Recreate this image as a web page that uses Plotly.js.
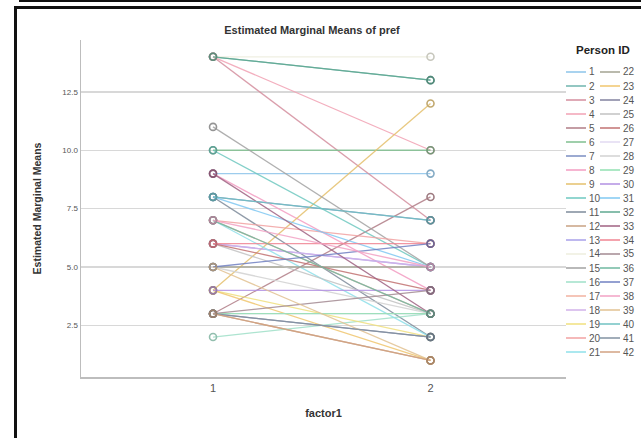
<!DOCTYPE html>
<html>
<head>
<meta charset="utf-8">
<script src="https://cdn.plot.ly/plotly-3.0.1.min.js"></script>
<style>
  html, body { margin:0; padding:0; background:#fff; }
  #wrap { position:relative; width:641px; height:438px; overflow:hidden; background:#fff; }
  #chart { position:absolute; left:0; top:0; width:641px; height:438px; }
  .bl { position:absolute; background:#111; }
</style>
</head>
<body>
<div id="wrap">
  <div id="chart"></div>
  <div class="bl" style="left:19px; top:0px; width:622px; height:2px;"></div>
  <div class="bl" style="left:14px; top:6px; width:627px; height:3px;"></div>
  <div class="bl" style="left:14px; top:6px; width:3px; height:432px;"></div>
</div>
<script>
// Data
const factorLevels = [1, 2];
const personIds = [1,2,3,4,5,6,7,8,9,10,11,12,13,14,15,16,17,18,19,20,21,
                   22,23,24,25,26,27,28,29,30,31,32,33,34,35,36,37,38,39,40,41,42];
const meanFactor1 = [9,14,14,14,3,10,8,9,4,10,8,3,6,14,11,2,7,6,4,7,7,
                     5,4,3,6,6,3,5,3,4,8,14,9,6,3,7,5,7,5,8,3,3];
const meanFactor2 = [9,13,7,10,8,10,7,4,12,5,2,1,5,14,5,3,3,5,2,6,2,
                     5,1,2,3,4,3,3,3,4,5,13,3,6,4,3,6,5,1,7,2,1];
const personColors = [
  '#8cc4ea','#6fb4ae','#d48e9e','#f2a2b4','#b07c86','#7fbf8f','#7b8ec2','#f39cc2','#e5c06c','#6ec8c0','#7e8b9b',
  '#c9a283','#a8a0ea','#eeeede','#a2a2a2','#9fe0c8','#f2b2a0','#d2b2ea','#f0e07e','#f2a2a2','#8fe0ea',
  '#a3a392','#f0c66e','#82829f','#c2c2c2','#c27272','#e2daf2','#d2d2d2','#92e0b2','#b290e2','#80c8f2',
  '#5fa890','#a06282','#f08492','#a38a92','#6fb8a0','#7080c2','#f2a2c4','#e2c292','#70c2c2','#8292a2','#d2a282'
];

function darken(hex, f) {
  const n = parseInt(hex.slice(1), 16);
  const r = Math.round(((n >> 16) & 255) * f), g = Math.round(((n >> 8) & 255) * f), b = Math.round((n & 255) * f);
  return 'rgb(' + r + ',' + g + ',' + b + ')';
}

const L = 81, T = 40, R = 566, B = 377;
const px2x = p => (p - L) / (R - L);
const px2y = p => (B - p) / (B - T);

const traces = personIds.map((id, i) => ({
  type: 'scatter',
  mode: 'lines+markers',
  name: String(id),
  x: factorLevels,
  y: [meanFactor1[i], meanFactor2[i]],
  line: { color: personColors[i], width: 1.3 },
  marker: { symbol: 'circle-open', size: 7, color: darken(personColors[i], 0.8), line: { width: 1.6, color: darken(personColors[i], 0.8) } },
  opacity: 0.85,
  showlegend: false,
  hoverinfo: 'name+y'
}));

// Manual two-column legend (column-major, 21 rows)
const shapes = [];
const annotations = [];
const rowTop = 72, rowGap = 14;
personIds.forEach((id, i) => {
  const col = i < 21 ? 0 : 1;
  const row = i % 21;
  const yPx = rowTop + row * rowGap;
  const x0 = col === 0 ? 566 : 600;
  shapes.push({
    type: 'line', xref: 'paper', yref: 'paper',
    x0: px2x(x0), x1: px2x(x0 + 20), y0: px2y(yPx), y1: px2y(yPx),
    line: { color: personColors[i], width: 1.5 }
  });
  annotations.push({
    xref: 'paper', yref: 'paper', x: px2x(x0 + 21), y: px2y(yPx),
    xanchor: 'left', yanchor: 'middle', showarrow: false,
    text: String(id), font: { family: 'Liberation Sans, Arial, sans-serif', size: 10, color: '#555' }
  });
});
annotations.push({
  xref: 'paper', yref: 'paper', x: px2x(603), y: px2y(50),
  xanchor: 'center', yanchor: 'middle', showarrow: false,
  text: '<b>Person ID</b>', font: { family: 'Liberation Sans, Arial, sans-serif', size: 11.5, color: '#222' }
});

const layout = {
  width: 641, height: 438,
  margin: { l: L, r: 641 - R, t: T, b: 438 - B, pad: 0 },
  paper_bgcolor: 'rgba(0,0,0,0)',
  plot_bgcolor: '#fff',
  showlegend: false,
  title: {
    text: '<b>Estimated Marginal Means of pref</b>',
    font: { family: 'Liberation Sans, Arial, sans-serif', size: 11, color: '#333' },
    x: 312 / 641, xanchor: 'center',
    y: 1 - 30 / 438, yanchor: 'middle'
  },
  xaxis: {
    range: [0.393, 2.623],
    tickvals: factorLevels, ticktext: ['1', '2'],
    showgrid: false, zeroline: false,
    showline: true, linecolor: '#bdbdbd', linewidth: 1.5,
    ticks: '', ticklen: 0,
    tickfont: { family: 'Liberation Sans, Arial, sans-serif', size: 11, color: '#555' },
    title: { text: '<b>factor1</b>', standoff: 16,
             font: { family: 'Liberation Sans, Arial, sans-serif', size: 11, color: '#333' } },
    fixedrange: true
  },
  yaxis: {
    range: [0.29, 14.72],
    tickvals: [2.5, 5, 7.5, 10, 12.5], ticktext: ['2.5', '5.0', '7.5', '10.0', '12.5'],
    showgrid: true, gridcolor: '#d8d8d8', gridwidth: 1.3,
    zeroline: false,
    showline: true, linecolor: '#bdbdbd', linewidth: 1.5,
    ticks: '', ticklen: 0,
    tickfont: { family: 'Liberation Sans, Arial, sans-serif', size: 8, color: '#555' },
    title: { text: '<b>Estimated Marginal Means</b>', standoff: 18,
             font: { family: 'Liberation Sans, Arial, sans-serif', size: 10.5, color: '#333' } },
    fixedrange: true
  },
  shapes: shapes,
  annotations: annotations
};

Plotly.newPlot('chart', traces, layout, { displayModeBar: false, staticPlot: true });
</script>
</body>
</html>
